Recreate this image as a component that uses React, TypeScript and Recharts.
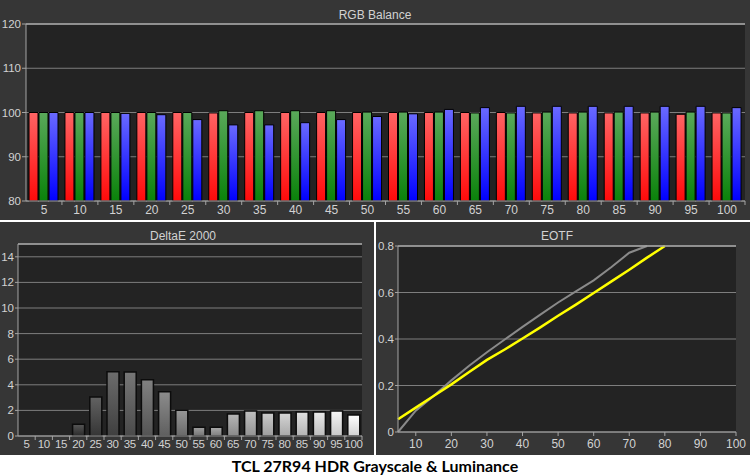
import {
  Bar,
  BarChart,
  CartesianGrid,
  Cell,
  Line,
  LineChart,
  ReferenceLine,
  XAxis,
  YAxis,
} from "recharts";

// stimulus levels (% grey)
const levels = ["5", "10", "15", "20", "25", "30", "35", "40", "45", "50", "55", "60", "65", "70", "75", "80", "85", "90", "95", "100"];

// RGB balance (%)
const redValues = [100, 100, 100, 100, 100, 99.9, 100, 100, 100, 100, 100, 100, 100, 100, 99.9, 99.9, 99.9, 99.9, 99.6, 99.9];
const greenValues = [100, 100, 100, 100, 100, 100.4, 100.4, 100.4, 100.4, 100.1, 100.1, 100.1, 99.9, 99.9, 100.1, 100.1, 100.1, 100.1, 100.1, 99.9];
const blueValues = [100, 100, 99.8, 99.5, 98.4, 97.2, 97.2, 97.7, 98.4, 99.1, 99.7, 100.7, 101.1, 101.4, 101.4, 101.4, 101.4, 101.4, 101.4, 101.1];

// DeltaE 2000
const deltaEValues = [0, 0, 0, 0.92, 3.05, 5.02, 5.0, 4.4, 3.45, 2.02, 0.68, 0.68, 1.72, 1.95, 1.8, 1.8, 1.87, 1.87, 1.95, 1.64];

// EOTF (values above the 0.8 top of the scale are not shown)
const eotfX = [5, 10, 15, 20, 25, 30, 35, 40, 45, 50, 55, 60, 65, 70, 75, 80, 85, 90, 95, 100];
const measuredEotf = [0.055, 0.105, 0.155, 0.205, 0.258, 0.31, 0.355, 0.402, 0.45, 0.5, 0.548, 0.598, 0.648, 0.698, 0.75, 0.8, null, null, null, null];
const targetEotf = [0, 0.092, 0.155, 0.222, 0.285, 0.343, 0.398, 0.452, 0.505, 0.557, 0.605, 0.652, 0.71, 0.771, 0.8, null, null, null, null, null];

const rgbTicks = [80, 90, 100, 110, 120];
const deltaETicks = [0, 2, 4, 6, 8, 10, 12, 14];
const eotfYTicks = [0, 0.2, 0.4, 0.6, 0.8];
const eotfXTicks = [10, 20, 30, 40, 50, 60, 70, 80, 90, 100];

const rgbData = levels.map((l, i) => ({ level: l, r: redValues[i], g: greenValues[i], b: blueValues[i] }));
const deltaEData = levels.map((l, i) => ({ level: l, de: deltaEValues[i] }));
const eotfData = eotfX.map((x, i) => ({ x, measured: measuredEotf[i], target: targetEotf[i] }));

const FONT = "'Liberation Sans', Arial, sans-serif";
const PANEL = "#363636";
const PLOT = "#232323";
const GRID = "#7e7e7e";
const FRAME = "#a4a4a4";
const LABEL = "#d2d2d2";

function BandTick(props: any) {
  const { x, y, payload, band, offset, fontSize, spacing } = props;
  return (
    <g>
      <line x1={x + band / 2} x2={x + band / 2} y1={y} y2={y + 4} stroke={FRAME} />
      <text
        x={x}
        y={y + offset}
        textAnchor="middle"
        dominantBaseline="central"
        fill={LABEL}
        fontSize={fontSize}
        fontFamily={FONT}
        letterSpacing={spacing}
      >
        {payload.value}
      </text>
    </g>
  );
}

function NumTick(props: any) {
  const { x, y, payload } = props;
  return (
    <g>
      <line x1={x} x2={x} y1={y} y2={y + 4} stroke={FRAME} />
      <text x={x} y={y + 12} textAnchor="middle" dominantBaseline="central" fill={LABEL} fontSize={12} fontFamily={FONT}>
        {payload.value}
      </text>
    </g>
  );
}

const titleStyle = {
  position: "absolute" as const,
  color: LABEL,
  fontFamily: FONT,
  fontSize: 12,
  textAlign: "center" as const,
  lineHeight: "14px",
};

const yTick = { fill: LABEL, fontSize: 11.5, fontFamily: FONT };

function grayShade(level: string, top: boolean) {
  const p = Number(level);
  const v = Math.round(45 + p * 2.1 - (top ? 0 : 45));
  const c = Math.max(20, Math.min(255, v));
  return `rgb(${c},${c},${c})`;
}

export default function App() {
  return (
    <div style={{ position: "absolute", left: 0, top: 0, width: 750, height: 476, background: "#fff", overflow: "hidden" }}>
      {/* RGB Balance */}
      <div style={{ position: "absolute", left: 0, top: 0, width: 750, height: 220, background: PANEL }}>
        <div style={{ ...titleStyle, left: 0, top: 8, width: 750 }}>RGB Balance</div>
        <BarChart
          width={750}
          height={220}
          data={rgbData}
          margin={{ top: 24, right: 5, bottom: 0, left: 0 }}
          barSize={9}
          barGap={1}
          style={{ position: "absolute", left: 0, top: 0 }}
        >
          <defs>
            <linearGradient id="gRed" x1="0" y1="0" x2="0" y2="1">
              <stop offset="0" stopColor="#ff6464" />
              <stop offset="1" stopColor="#ff0a0a" />
            </linearGradient>
            <linearGradient id="gGreen" x1="0" y1="0" x2="0" y2="1">
              <stop offset="0" stopColor="#5aa95a" />
              <stop offset="1" stopColor="#0a820a" />
            </linearGradient>
            <linearGradient id="gBlue" x1="0" y1="0" x2="0" y2="1">
              <stop offset="0" stopColor="#6a6aff" />
              <stop offset="1" stopColor="#0000ff" />
            </linearGradient>
          </defs>
          <CartesianGrid vertical={false} stroke={GRID} fill={PLOT} />
          <XAxis
            dataKey="level"
            height={19}
            axisLine={{ stroke: FRAME }}
            tickLine={false}
            tickSize={0}
            tickMargin={0}
            interval={0}
            tick={(p: any) => <BandTick {...p} band={719 / 20} offset={9} fontSize={12} spacing={0} />}
          />
          <YAxis
            width={26}
            domain={[80, 120]}
            ticks={rgbTicks}
            axisLine={{ stroke: FRAME }}
            tickLine={{ stroke: FRAME }}
            tickSize={4}
            tickMargin={1}
            tick={yTick}
          />
          <YAxis yAxisId="frame" orientation="right" width={0} domain={[0, 1]} tick={false} tickLine={false} axisLine={{ stroke: FRAME }} />
          <ReferenceLine y={120} stroke={FRAME} strokeWidth={1.5} />
          <Bar dataKey="r" fill="url(#gRed)" stroke="#000" strokeWidth={1} isAnimationActive={false} />
          <Bar dataKey="g" fill="url(#gGreen)" stroke="#000" strokeWidth={1} isAnimationActive={false} />
          <Bar dataKey="b" fill="url(#gBlue)" stroke="#000" strokeWidth={1} isAnimationActive={false} />
        </BarChart>
      </div>

      {/* DeltaE 2000 */}
      <div style={{ position: "absolute", left: 0, top: 222, width: 374, height: 233, background: PANEL }}>
        <div style={{ ...titleStyle, left: 0, top: 7, width: 366 }}>DeltaE 2000</div>
        <BarChart
          width={374}
          height={233}
          data={deltaEData}
          margin={{ top: 22, right: 12, bottom: 0, left: 0 }}
          barSize={12}
          style={{ position: "absolute", left: 0, top: 0 }}
        >
          <defs>
            {levels.map((l) => (
              <linearGradient key={l} id={`gDe${l}`} x1="0" y1="0" x2="0" y2="1">
                <stop offset="0" stopColor={grayShade(l, true)} />
                <stop offset="1" stopColor={grayShade(l, false)} />
              </linearGradient>
            ))}
          </defs>
          <CartesianGrid vertical={false} stroke={GRID} fill={PLOT} />
          <XAxis
            dataKey="level"
            height={19}
            axisLine={{ stroke: FRAME }}
            tickLine={false}
            tickSize={0}
            tickMargin={0}
            interval={0}
            tick={(p: any) => <BandTick {...p} band={344 / 20} offset={8} fontSize={11.5} spacing={-0.4} />}
          />
          <YAxis
            width={18}
            domain={[0, 15]}
            ticks={deltaETicks}
            axisLine={{ stroke: FRAME }}
            tickLine={{ stroke: FRAME }}
            tickSize={3}
            tickMargin={1}
            tick={yTick}
          />
          <YAxis yAxisId="frame" orientation="right" width={0} domain={[0, 1]} tick={false} tickLine={false} axisLine={{ stroke: FRAME }} />
          <ReferenceLine y={15} stroke={FRAME} strokeWidth={1.5} />
          <Bar dataKey="de" stroke="#0c0c0c" strokeWidth={1.5} isAnimationActive={false}>
            {levels.map((l) => (
              <Cell key={l} fill={`url(#gDe${l})`} />
            ))}
          </Bar>
        </BarChart>
      </div>

      {/* EOTF */}
      <div style={{ position: "absolute", left: 376, top: 222, width: 374, height: 233, background: PANEL }}>
        <div style={{ ...titleStyle, left: 0, top: 7, width: 362 }}>EOTF</div>
        <LineChart
          width={374}
          height={233}
          data={eotfData}
          margin={{ top: 24, right: 14, bottom: 0, left: 0 }}
          style={{ position: "absolute", left: 0, top: 0 }}
        >
          <CartesianGrid vertical={false} stroke={GRID} fill={PLOT} />
          <XAxis
            dataKey="x"
            type="number"
            domain={[5, 100]}
            ticks={eotfXTicks}
            height={23}
            axisLine={{ stroke: FRAME }}
            tickLine={false}
            tickSize={0}
            tickMargin={0}
            tick={(p: any) => <NumTick {...p} />}
          />
          <YAxis
            width={22}
            domain={[0, 0.8]}
            ticks={eotfYTicks}
            axisLine={{ stroke: FRAME }}
            tickLine={{ stroke: FRAME }}
            tickSize={3}
            tickMargin={1}
            tick={yTick}
          />
          <YAxis yAxisId="frame" orientation="right" width={0} domain={[0, 1]} tick={false} tickLine={false} axisLine={{ stroke: FRAME }} />
          <Line type="linear" dataKey="target" stroke="#8a8a8a" strokeWidth={2} dot={false} isAnimationActive={false} />
          <Line type="linear" dataKey="measured" stroke="#ffff00" strokeWidth={2.5} dot={false} isAnimationActive={false} />
          <ReferenceLine y={0.8} stroke={FRAME} strokeWidth={1.5} />
        </LineChart>
      </div>

      <div
        style={{
          position: "absolute",
          left: 0,
          top: 456,
          width: 750,
          textAlign: "center",
          fontFamily: "Lato, 'Liberation Sans', sans-serif",
          fontWeight: 700,
          fontSize: 16,
          lineHeight: "20px",
          color: "#000",
        }}
      >
        TCL 27R94 HDR Grayscale &amp; Luminance
      </div>
    </div>
  );
}
